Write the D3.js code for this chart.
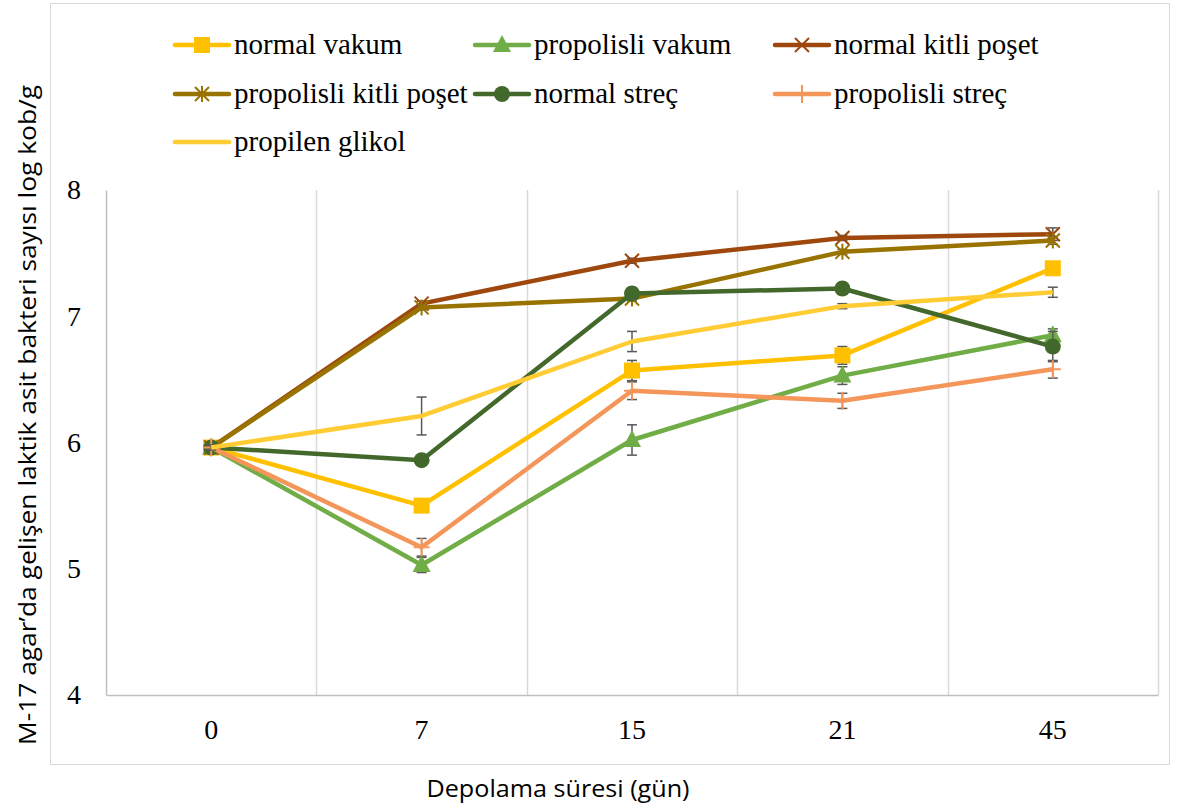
<!DOCTYPE html>
<html><head><meta charset="utf-8">
<script src="https://cdn.jsdelivr.net/npm/d3@7"></script>
<style>body{margin:0;background:#fff}</style></head>
<body><svg id="c" width="1192" height="810"></svg>
<script>
const days = ["0","7","15","21","45"];
const yTicks = [4,5,6,7,8];
const seriesNames = ["normal vakum","propolisli vakum","normal kitli poşet","propolisli kitli poşet","normal streç","propolisli streç","propilen glikol"];
const normalVakum = [5.96,5.50,6.57,6.69,7.38];
const normalVakumErr = [0.02,0.05,0.08,0.07,0.04];
const propolisliVakum = [5.96,5.03,6.02,6.53,6.85];
const propolisliVakumErr = [0.02,0.06,0.12,0.07,0.05];
const normalKitli = [5.96,7.10,7.44,7.62,7.65];
const normalKitliErr = [0.02,0.02,0.02,0.02,0.05];
const propolisliKitli = [5.96,7.07,7.14,7.51,7.60];
const propolisliKitliErr = [0.02,0.02,0.02,0.02,0.03];
const normalStrec = [5.96,5.86,7.18,7.22,6.76];
const normalStrecErr = [0.02,0.02,0.02,0.02,0.12];
const propolisliStrec = [5.96,5.17,6.41,6.33,6.58];
const propolisliStrecErr = [0.02,0.07,0.07,0.06,0.07];
const propilenGlikol = [5.96,6.21,6.80,7.08,7.19];
const propilenGlikolErr = [0.02,0.15,0.08,0.02,0.04];

const colors = ["#FFC000","#70AD47","#9E480E","#997300","#43682B","#F4965A","#FFCC33"];
const symbols = ["square","triangle","x","asterisk","circle","plus","none"];
const values = [normalVakum,propolisliVakum,normalKitli,propolisliKitli,normalStrec,propolisliStrec,propilenGlikol];
const errs = [normalVakumErr,propolisliVakumErr,normalKitliErr,propolisliKitliErr,normalStrecErr,propolisliStrecErr,propilenGlikolErr];

const SERIF = '"Liberation Serif"';
const SANS = '"Open Sans"';
const svg = d3.select("#c");
const L=106, R=1158, T=190, B=695;
const x = d3.scaleBand().domain(days).range([L,R]);
const y = d3.scaleLinear().domain([4,8]).range([B,T]);

svg.append("rect").attr("x",50.5).attr("y",3.5).attr("width",1119).attr("height",761)
  .attr("fill","none").attr("stroke","#d9d9d9").attr("stroke-width",1);

svg.append("g").selectAll("line").data(days).join("line")
  .attr("x1",d=>Math.round(x(d)+x.bandwidth())+0.5).attr("x2",d=>Math.round(x(d)+x.bandwidth())+0.5)
  .attr("y1",T).attr("y2",B).attr("stroke","#d9d9d9").attr("stroke-width",1.5);

const yAx = svg.append("g").attr("transform",`translate(${L},0)`)
  .call(d3.axisLeft(y).tickValues(yTicks).tickSize(0).tickPadding(25).tickFormat(d3.format("d")));
yAx.select(".domain").attr("stroke","#bfbfbf").attr("stroke-width",1.5);
yAx.selectAll("text").style("font-family",SERIF).style("font-size","28px").attr("fill","#000");

const xAx = svg.append("g").attr("transform",`translate(0,${B})`)
  .call(d3.axisBottom(x).tickSize(0).tickPadding(24));
xAx.select(".domain").attr("stroke","#bfbfbf").attr("stroke-width",1.5);
xAx.selectAll("text").style("font-family",SERIF).style("font-size","28px").attr("fill","#000");

svg.append("text").attr("x",558).attr("y",797).attr("text-anchor","middle")
  .style("font-family",SANS).style("font-size","23px").attr("fill","#000")
  .attr("textLength",263).attr("lengthAdjust","spacingAndGlyphs")
  .text("Depolama süresi (gün)");
svg.append("text").attr("transform","translate(36,415) rotate(-90)").attr("text-anchor","middle")
  .style("font-family",SANS).style("font-size","23px").attr("fill","#000")
  .attr("textLength",660).attr("lengthAdjust","spacingAndGlyphs")
  .text("M-17 agar’da gelişen laktik asit bakteri sayısı log kob/g");

function drawMarker(g, type, color, cx, cy){
  if(type==="square"){
    g.append("rect").attr("x",cx-8).attr("y",cy-8).attr("width",16).attr("height",16).attr("fill",color);
  } else if(type==="triangle"){
    g.append("path").attr("d",`M${cx},${cy-10}L${cx+9},${cy+7}L${cx-9},${cy+7}Z`).attr("fill",color);
  } else if(type==="circle"){
    g.append("circle").attr("cx",cx).attr("cy",cy).attr("r",8).attr("fill",color);
  } else if(type==="x"){
    g.append("path").attr("d",`M${cx-7},${cy-7}L${cx+7},${cy+7}M${cx-7},${cy+7}L${cx+7},${cy-7}`)
      .attr("stroke",color).attr("stroke-width",2).attr("fill","none");
  } else if(type==="asterisk"){
    g.append("path").attr("d",`M${cx-7},${cy-7}L${cx+7},${cy+7}M${cx-7},${cy+7}L${cx+7},${cy-7}M${cx},${cy-8}L${cx},${cy+8}`)
      .attr("stroke",color).attr("stroke-width",2).attr("fill","none");
  } else if(type==="plus"){
    g.append("path").attr("d",`M${cx-8},${cy}L${cx+8},${cy}M${cx},${cy-9}L${cx},${cy+9}`)
      .attr("stroke",color).attr("stroke-width",2).attr("fill","none");
  }
}

const line = d3.line().x((d,i)=>x(days[i])+x.bandwidth()/2).y(d=>y(d));
const plot = svg.append("g");
values.forEach((vals,si)=>{
  const g = plot.append("g");
  vals.forEach((v,i)=>{
    const cx = x(days[i])+x.bandwidth()/2, e = errs[si][i];
    const y1=y(v+e), y2=y(v-e);
    g.append("line").attr("x1",cx).attr("x2",cx).attr("y1",y1).attr("y2",y2).attr("stroke","#595959").attr("stroke-width",1.5);
    [y1,y2].forEach(yy=>g.append("line").attr("x1",cx-5).attr("x2",cx+5).attr("y1",yy).attr("y2",yy).attr("stroke","#595959").attr("stroke-width",1.5));
  });
  g.append("path").datum(vals).attr("d",line).attr("fill","none").attr("stroke",colors[si])
    .attr("stroke-width",4.5).attr("stroke-linejoin","round");
  vals.forEach((v,i)=>drawMarker(g,symbols[si],colors[si],x(days[i])+x.bandwidth()/2,y(v)));
});

const legPos = [[175,45],[475,45],[775,45],[175,94],[475,94],[775,94],[175,142]];
seriesNames.forEach((n,i)=>{
  const [lx,ly]=legPos[i];
  const g=svg.append("g");
  g.append("line").attr("x1",lx).attr("x2",lx+54).attr("y1",ly).attr("y2",ly)
    .attr("stroke",colors[i]).attr("stroke-width",4.5).attr("stroke-linecap","round");
  drawMarker(g,symbols[i],colors[i],lx+27,ly);
  g.append("text").attr("x",lx+59).attr("y",ly+9).style("font-family",SERIF)
    .style("font-size","29px").attr("fill","#000").text(n);
});
</script></body></html>
